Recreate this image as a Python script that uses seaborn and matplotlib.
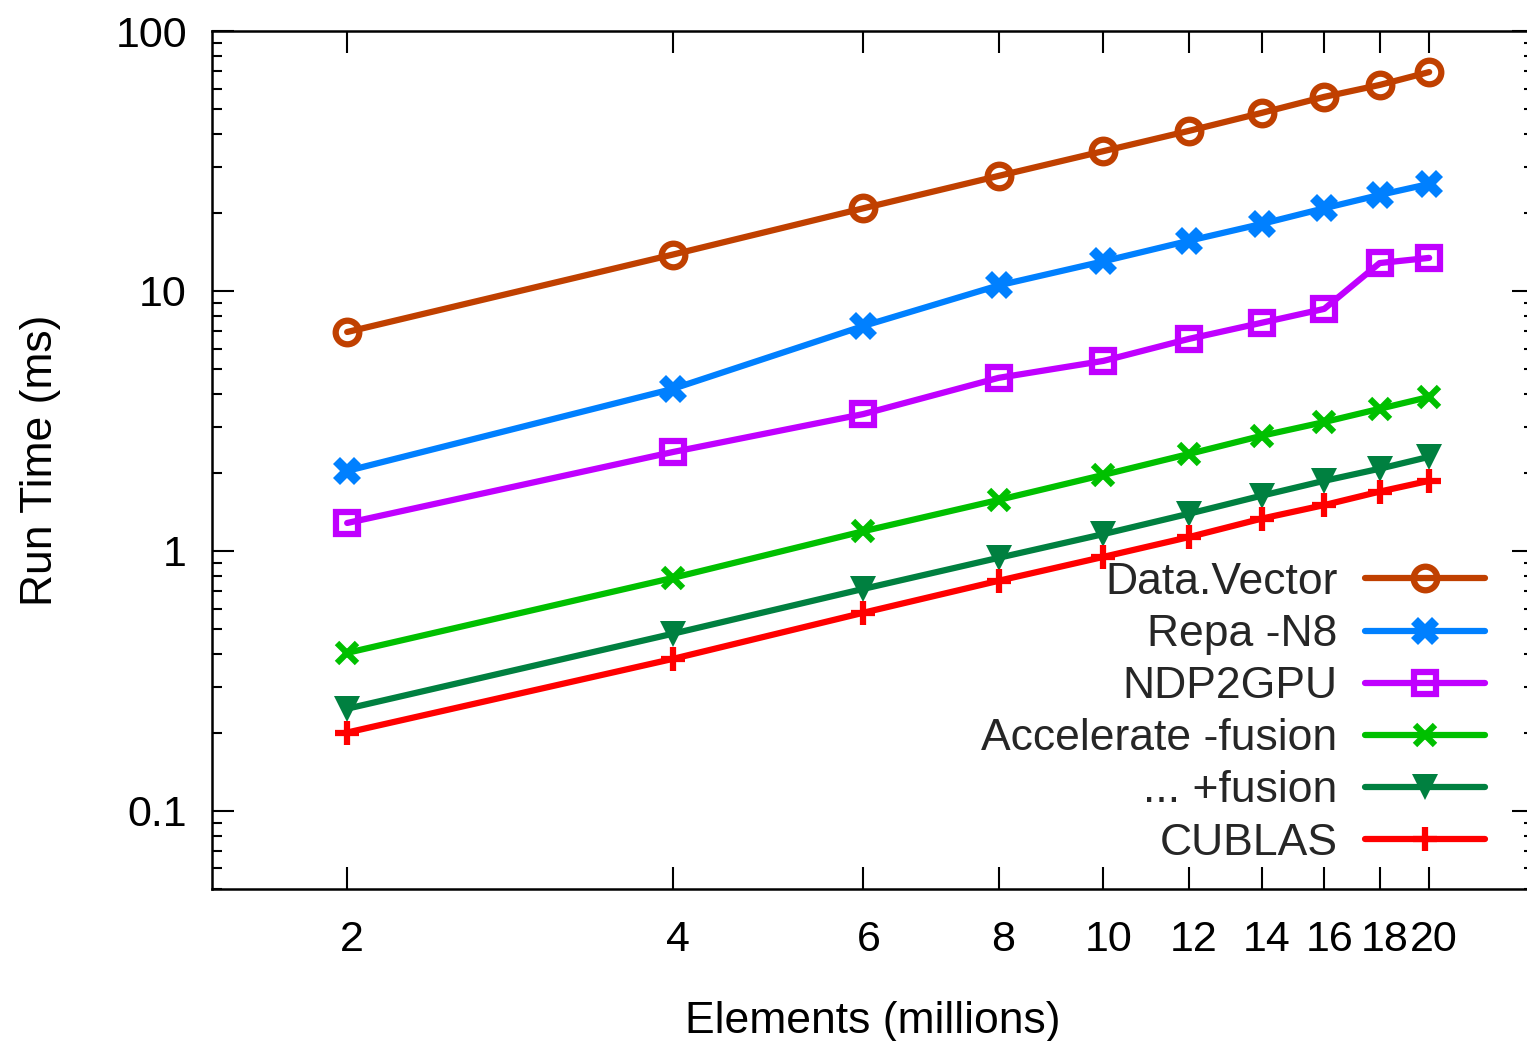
import numpy as np
import pandas as pd
import matplotlib
matplotlib.use("Agg")
import matplotlib.pyplot as plt
import matplotlib.transforms as mtransforms
import seaborn as sns
from matplotlib.ticker import FixedLocator, LogLocator, FuncFormatter, NullLocator

elements = [2, 4, 6, 8, 10, 12, 14, 16, 18, 20]
data_vector = [6.95, 13.8, 20.8, 27.7, 34.5, 41.3, 48.4, 55.8, 62.0, 69.5]
repa_n8 = [2.03, 4.2, 7.33, 10.5, 13.0, 15.6, 18.1, 20.8, 23.4, 25.8]
ndp2gpu = [1.28, 2.4, 3.36, 4.63, 5.38, 6.54, 7.54, 8.53, 12.8, 13.4]
acc_nofusion = [0.405, 0.787, 1.19, 1.57, 1.96, 2.36, 2.77, 3.13, 3.52, 3.91]
acc_fusion = [0.247, 0.48, 0.714, 0.94, 1.16, 1.39, 1.63, 1.86, 2.07, 2.3]
cublas = [0.2, 0.384, 0.578, 0.767, 0.948, 1.13, 1.33, 1.50, 1.69, 1.86]

labels = ["Data.Vector", "Repa -N8", "NDP2GPU", "Accelerate -fusion", "... +fusion", "CUBLAS"]
series = [data_vector, repa_n8, ndp2gpu, acc_nofusion, acc_fusion, cublas]
colors = ["#C04000", "#0080FF", "#C000FF", "#00C000", "#008040", "#FF0000"]

sns.set_theme(style="ticks")
plt.rcParams["font.family"] = ["Liberation Sans", "DejaVu Sans"]

W, H = 1527, 1041
fig = plt.figure(figsize=(W / 100, H / 100), dpi=100)
x0, x1, y0, y1 = 212, 1534, 31, 889
ax = fig.add_axes([x0 / W, 1 - y1 / H, (x1 - x0) / W, (y1 - y0) / H])

styles = [
    dict(marker="o", markersize=17, markeredgewidth=4.5, markerfacecolor="none"),
    dict(marker="X", markersize=20, markeredgewidth=0),
    dict(marker="s", markersize=16, markeredgewidth=4.5, markerfacecolor="none"),
    dict(marker="x", markersize=15, markeredgewidth=4.5),
    dict(marker="v", markersize=19, markeredgewidth=0),
    dict(marker="+", markersize=17, markeredgewidth=4.5),
]

for lab, vals, col, st in zip(labels, series, colors, styles):
    df = pd.DataFrame({"x": elements, "y": vals})
    sns.lineplot(data=df, x="x", y="y", ax=ax, color=col, linewidth=4.5,
                 label=lab, markeredgecolor=col, **st)

ax.set_xscale("log")
ax.set_yscale("log")
ax.set_xlim(1.5, 25)
ax.set_ylim(0.05, 100)

ax.xaxis.set_major_locator(FixedLocator(elements))
ax.xaxis.set_major_formatter(FuncFormatter(lambda v, p: "%g" % v))
ax.xaxis.set_minor_locator(NullLocator())
ax.yaxis.set_major_locator(FixedLocator([0.1, 1, 10, 100]))
ax.yaxis.set_major_formatter(FuncFormatter(lambda v, p: "%g" % v))
ax.yaxis.set_minor_locator(LogLocator(base=10, subs=np.arange(2, 10)))

ax.tick_params(which="both", direction="in", top=True, right=True, colors="black",
               labelsize=31, width=1.5)
ax.tick_params(axis="x", which="major", length=16, pad=22)
ax.tick_params(axis="y", which="major", length=16, pad=18)
ax.tick_params(axis="y", which="minor", length=7)
for s in ax.spines.values():
    s.set_linewidth(1.8)
    s.set_color("black")

offset = mtransforms.ScaledTranslation(5 / 100, 0, fig.dpi_scale_trans)
for lbl in ax.get_xticklabels():
    lbl.set_transform(lbl.get_transform() + offset)

ax.set_xlabel("Elements (millions)", fontsize=32, labelpad=30, color="black")
ax.set_ylabel("Run Time (ms)", fontsize=32, labelpad=39, color="black")

leg = ax.legend(loc="upper right", bbox_to_anchor=((1485 - x0) / (x1 - x0), (y1 - 562) / (y1 - y0)),
                frameon=False, markerfirst=False, fontsize=32, handlelength=2.7,
                handletextpad=0.62, labelspacing=0.25, borderpad=0, borderaxespad=0)

fig.savefig("out.png", dpi=100)
